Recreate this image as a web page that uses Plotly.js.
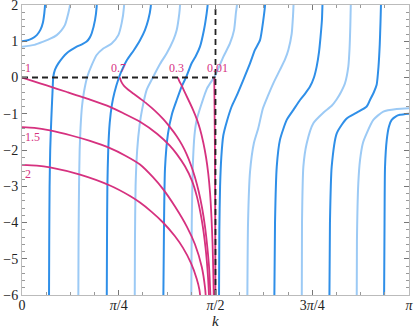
<!DOCTYPE html>
<html>
<head>
<meta charset="utf-8">
<script src="https://cdn.plot.ly/plotly-3.0.1.min.js"></script>
<style>
  body { margin: 0; background: #fff; }
  #plot { width: 415px; height: 328px; }
</style>
</head>
<body>
<div id="plot"></div>
<script>
// branches, as [k, value] pairs
let dark0 = [[0,1.0],[0.04,1.02],[0.08,1.07],[0.12,1.17],[0.15,1.32],[0.17,1.52],[0.181,1.77],[0.188,2.05],[0.192,2.4]];
let dark1 = [[0.219,-6.3],[0.221,-4.5],[0.224,-3],[0.229,-2],[0.235,-1.4],[0.241,-0.9],[0.247,-0.45],[0.254,0.02],[0.268,0.22],[0.295,0.39],[0.33,0.55],[0.363,0.67],[0.40,0.76],[0.444,0.85],[0.49,0.92],[0.525,0.99],[0.55,1.1],[0.566,1.22],[0.593,1.59],[0.606,1.95],[0.61,2.4]];
let dark2 = [[0.688,-6.3],[0.690,-4.5],[0.693,-3],[0.700,-2],[0.712,-1.25],[0.73,-0.75],[0.75,-0.42],[0.787,0],[0.812,0.21],[0.852,0.48],[0.909,0.76],[0.958,1.03],[0.998,1.31],[1.025,1.59],[1.045,1.95],[1.05,2.4]];
let dark3 = [[1.147,-6.3],[1.153,-4],[1.161,-2.5],[1.185,-1.55],[1.218,-1.0],[1.256,-0.62],[1.296,-0.25],[1.331,0],[1.378,0.4],[1.412,0.6],[1.445,0.85],[1.477,1.31],[1.499,1.77],[1.507,2],[1.511,2.4]];
let dark4 = [[1.599,-6.3],[1.602,-4.2],[1.608,-3],[1.618,-2.2],[1.634,-1.6],[1.664,-1.2],[1.702,-0.8],[1.743,-0.5],[1.796,-0.07],[1.851,0.39],[1.891,0.76],[1.932,1.03],[1.959,1.59],[1.973,2],[1.977,2.4]];
let dark5 = [[2.048,-6.3],[2.054,-4],[2.068,-2.46],[2.094,-1.72],[2.149,-1.17],[2.202,-0.9],[2.257,-0.62],[2.297,-0.45],[2.338,-0.25],[2.370,0],[2.392,0.3],[2.411,0.7],[2.423,1.1],[2.435,1.6],[2.439,2],[2.442,2.4]];
let dark6 = [[2.495,-6.3],[2.500,-4],[2.514,-2.46],[2.555,-1.54],[2.636,-1.13],[2.717,-0.97],[2.798,-0.8],[2.825,-0.62],[2.857,-0.4],[2.879,-0.2],[2.894,0.3],[2.904,0.9],[2.910,1.5],[2.914,2],[2.917,2.4]];
let dark7 = [[2.939,-6.3],[2.943,-4],[2.947,-2.46],[2.961,-1.72],[2.979,-1.35],[3.001,-1.17],[3.036,-1.07],[3.068,-1.03],[3.142,-1.0]];

let light0 = [[0,0.85],[0.1,0.9],[0.173,0.99],[0.23,1.07],[0.282,1.17],[0.32,1.3],[0.349,1.45],[0.376,1.77],[0.39,2.0],[0.395,2.4]];
let light1 = [[0.457,-6.3],[0.459,-4.5],[0.463,-3],[0.468,-2],[0.475,-1.4],[0.487,-0.8],[0.503,-0.4],[0.530,0.02],[0.566,0.34],[0.606,0.62],[0.66,0.80],[0.728,0.94],[0.782,1.17],[0.809,1.5],[0.828,1.95],[0.832,2.4]];
let light2 = [[0.915,-6.3],[0.917,-4.5],[0.922,-3],[0.935,-2],[0.955,-1.3],[0.974,-0.9],[1.012,-0.34],[1.055,-0.05],[1.12,0.37],[1.175,0.67],[1.228,1.03],[1.256,1.31],[1.277,1.77],[1.283,2],[1.287,2.4]];
let light3 = [[1.374,-6.3],[1.378,-4],[1.386,-2.5],[1.40,-1.6],[1.418,-1.17],[1.459,-0.71],[1.502,-0.3],[1.567,0.05],[1.634,0.57],[1.688,0.94],[1.721,1.3],[1.737,1.8],[1.745,2],[1.749,2.4]];
let light4 = [[1.829,-6.3],[1.835,-4],[1.851,-2.6],[1.883,-1.8],[1.918,-1.4],[1.956,-0.85],[1.997,-0.5],[2.040,-0.16],[2.094,0.21],[2.135,0.5],[2.162,0.76],[2.189,1.2],[2.200,1.7],[2.204,2],[2.207,2.4]];
let light5 = [[2.271,-6.3],[2.273,-4],[2.284,-2.46],[2.311,-1.82],[2.365,-1.26],[2.446,-0.97],[2.514,-0.78],[2.555,-0.6],[2.590,-0.4],[2.622,-0.16],[2.649,0.3],[2.659,0.8],[2.665,1.4],[2.669,2],[2.672,2.4]];
let light6 = [[2.717,-6.3],[2.719,-4.5],[2.730,-2.92],[2.744,-2.28],[2.768,-1.8],[2.798,-1.54],[2.852,-1.17],[2.933,-0.94],[3.042,-0.87],[3.142,-0.85]];

let mag1 = [[0,0],[0.09,-0.1],[0.2,-0.22],[0.365,-0.4],[0.552,-0.61],[0.714,-0.81],[0.82,-0.98],[0.958,-1.22],[1.096,-1.55],[1.2,-1.88],[1.258,-2.12],[1.323,-2.45],[1.38,-2.85],[1.421,-3.3],[1.46,-3.95],[1.49,-4.7],[1.51,-5.5],[1.522,-6.3]];
let mag15 = [[0,-1.37],[0.1,-1.39],[0.227,-1.46],[0.4,-1.6],[0.552,-1.75],[0.714,-1.95],[0.836,-2.15],[0.958,-2.4],[1.063,-2.75],[1.145,-3.08],[1.242,-3.56],[1.339,-4.12],[1.404,-4.6],[1.459,-5.22],[1.486,-5.8],[1.497,-6.3]];
let mag2 = [[0,-2.41],[0.12,-2.43],[0.227,-2.48],[0.471,-2.68],[0.714,-2.98],[0.877,-3.27],[0.958,-3.45],[1.05,-3.7],[1.145,-4.0],[1.242,-4.38],[1.307,-4.7],[1.372,-5.12],[1.418,-5.55],[1.44,-5.85],[1.455,-6.3]];
let mag07 = [[0.7954,0],[0.80,-0.07],[0.81,-0.14],[0.83,-0.24],[0.86,-0.33],[0.903,-0.44],[0.958,-0.58],[1.012,-0.72],[1.08,-0.92],[1.147,-1.15],[1.201,-1.37],[1.256,-1.62],[1.299,-1.86],[1.337,-2.12],[1.372,-2.42],[1.404,-2.75],[1.435,-3.15],[1.462,-3.6],[1.485,-4.1],[1.505,-4.7],[1.52,-5.3],[1.528,-5.9],[1.533,-6.3]];
let mag03 = [[1.2661,0],[1.272,-0.06],[1.28,-0.12],[1.296,-0.22],[1.323,-0.42],[1.364,-0.71],[1.392,-0.92],[1.418,-1.14],[1.445,-1.42],[1.472,-1.8],[1.494,-2.2],[1.512,-2.65],[1.527,-3.2],[1.538,-3.85],[1.547,-4.6],[1.553,-5.4],[1.558,-6.3]];
let mag001 = [[1.5608,0],[1.563,-0.8],[1.566,-2],[1.568,-3.5],[1.570,-6.3]];

let guideK = [0, Math.PI / 2, null, Math.PI / 2, Math.PI / 2];
let guideY = [0, 0, null, -6, 2];

let tickK = [0, Math.PI / 4, Math.PI / 2, 3 * Math.PI / 4, Math.PI];
let tickText = ["0", "<i>π</i>/4", "<i>π</i>/2", "3<i>π</i>/4", "<i>π</i>"];

let darkBlue = "#2f8fe8";
let lightBlue = "#9ccaf5";
let magenta = "#d6317f";
let serif = "Liberation Serif, Times New Roman, serif";

function curve(pts, color, width) {
  return {
    x: pts.map(p => p[0]),
    y: pts.map(p => p[1]),
    mode: "lines",
    type: "scatter",
    line: { color: color, width: width, shape: "spline", smoothing: 0.6 },
    hoverinfo: "skip"
  };
}

let data = [];
[light0, light1, light2, light3, light4, light5, light6].forEach(b => data.push(curve(b, lightBlue, 2)));
[dark0, dark1, dark2, dark3, dark4, dark5, dark6, dark7].forEach(b => data.push(curve(b, darkBlue, 2)));
[mag2, mag15, mag1, mag07, mag03, mag001].forEach(b => data.push(curve(b, magenta, 1.8)));
data.push({
  x: guideK, y: guideY, mode: "lines", type: "scatter",
  line: { color: "#222", width: 1.8, dash: "6px,4px" }, hoverinfo: "skip"
});

// labels of the magenta curves
let labels = [
  { text: "1", x: 0.005, y: 0.25, xanchor: "left" },
  { text: "0.7", x: 0.78, y: 0.25, xanchor: "center" },
  { text: "0.3", x: 1.258, y: 0.25, xanchor: "center" },
  { text: "0.01", x: 1.583, y: 0.25, xanchor: "center" },
  { text: "1.5", x: 0.008, y: -1.64, xanchor: "left" },
  { text: "2", x: 0.008, y: -2.66, xanchor: "left" }
];

let minorK = [];
for (let i = 1; i < 16; i++) {
  if (i % 4 != 0) minorK.push(i * Math.PI / 16);
}

let annotations = labels.map(l => ({
  text: l.text, x: l.x, y: l.y, xref: "x", yref: "y",
  xanchor: l.xanchor, yanchor: "middle", showarrow: false,
  font: { family: serif, size: 12, color: magenta }
}));
// axis name sits in the bottom margin, below the tick labels
annotations.push({
  text: "<i>k</i>", x: 0.5, y: -0.09, xref: "paper", yref: "paper",
  xanchor: "center", yanchor: "middle", showarrow: false, borderpad: 0,
  font: { family: serif, size: 15, color: "#222" }
});

let layout = {
  width: 415, height: 328,
  margin: { l: 22, r: 6, t: 5, b: 33 },
  paper_bgcolor: "#fff", plot_bgcolor: "#fff",
  showlegend: false,
  font: { family: serif, size: 14, color: "#222" },
  xaxis: {
    range: [0, Math.PI],
    tickmode: "array", tickvals: tickK, ticktext: tickText,
    ticks: "inside", ticklen: 5, tickwidth: 1, tickcolor: "#777",
    minor: { tickmode: "array", tickvals: minorK, ticks: "inside", ticklen: 3, tickcolor: "#999", showgrid: false },
    showline: true, linecolor: "#bbb", linewidth: 1, mirror: "ticks",
    showgrid: false, zeroline: false, ticklabeloverflow: "allow",
    ticklabelstandoff: -3,
    tickfont: { family: serif, size: 14, color: "#222" }
  },
  yaxis: {
    range: [-6, 2], dtick: 1, tick0: 0,
    ticks: "inside", ticklen: 5, tickwidth: 1, tickcolor: "#777",
    minor: { dtick: 0.2, ticks: "inside", ticklen: 3, tickcolor: "#999", showgrid: false },
    showline: true, linecolor: "#bbb", linewidth: 1, mirror: "ticks",
    showgrid: false, zeroline: false, ticklabeloverflow: "allow",
    tickfont: { family: serif, size: 14, color: "#222" }
  },
  annotations: annotations
};

Plotly.newPlot("plot", data, layout, { displayModeBar: false, staticPlot: true });
</script>
</body>
</html>
